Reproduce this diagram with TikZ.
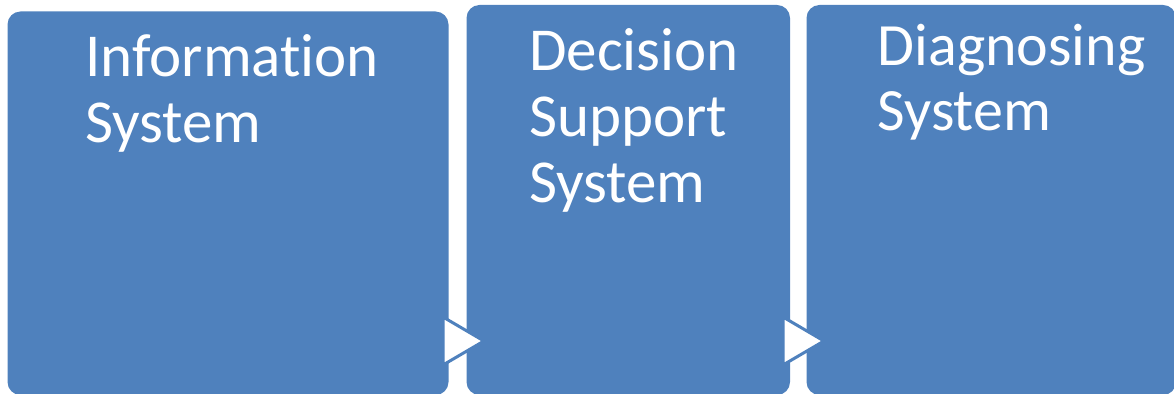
\documentclass[tikz,border=0pt]{standalone}
\usepackage{fontspec}
\setmainfont{Carlito}[Ligatures=NoCommon]
\definecolor{boxblue}{HTML}{4F81BD}
\tikzset{
  blockbox/.style={rectangle,rounded corners=13bp,fill=boxblue,draw=none,inner sep=0pt},
  blocktext/.style={anchor=base west,inner sep=0pt,align=left,text=white,font=\fontsize{61bp}{66bp}\selectfont},
  steptri/.style={fill=white,draw=boxblue,line width=3bp,line join=miter},
}
\begin{document}
\begin{tikzpicture}[>=latex,line join=bevel,]
\useasboundingbox (0bp,0bp) rectangle (1174bp,394bp);
%%
\node (node_info) at (228.0bp,190.75bp) [blockbox,minimum width=441bp,minimum height=383.5bp] {};
  \node (node_dss) at (628.25bp,194.0bp) [blockbox,minimum width=323.5bp,minimum height=390bp] {};
  \node (node_diag) at (991.25bp,194.0bp) [blockbox,minimum width=369.5bp,minimum height=390bp] {};
%
\node (text_info) at (85.0bp,251.0bp) [blocktext] {Information\\System};
  \node (text_dss) at (529.0bp,191.0bp) [blocktext] {Decision\\Support\\System};
  \node (text_diag) at (877.5bp,263.0bp) [blocktext,font=\fontsize{60bp}{65bp}\selectfont] {Diagnosing\\System};
%
\draw [steptri] (443bp,77bp) -- (443bp,29bp) -- (484bp,53bp) -- cycle;
  \draw [steptri] (783bp,77bp) -- (783bp,29bp) -- (824bp,53bp) -- cycle;
%
\end{tikzpicture}
\end{document}
